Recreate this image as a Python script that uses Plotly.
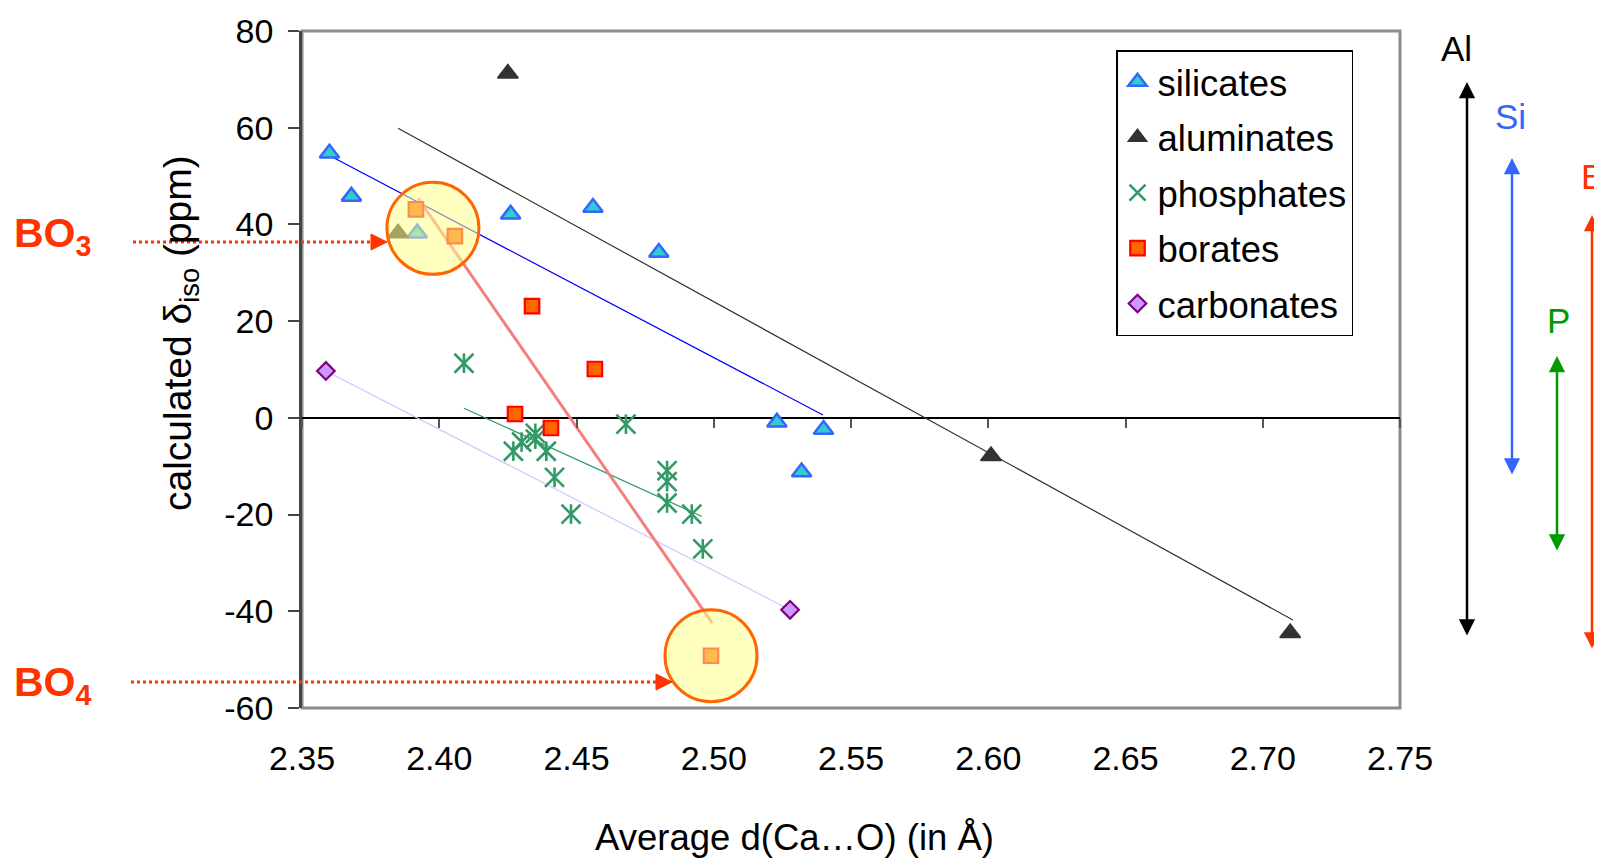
import plotly.graph_objects as go

# ---------------- data ----------------
silicates_x = [2.360, 2.368, 2.392, 2.426, 2.456, 2.480, 2.523, 2.540, 2.532]
silicates_y = [54.7, 45.8, 38.2, 42.1, 43.5, 34.2, -0.9, -2.4, -11.2]

aluminates_x = [2.425, 2.385, 2.601, 2.710]
aluminates_y = [71.2, 38.2, -7.9, -44.5]

phosphates_x = [2.409, 2.427, 2.430, 2.435, 2.435, 2.439, 2.442, 2.448, 2.468,
                2.483, 2.483, 2.483, 2.492, 2.496]
phosphates_y = [11.3, -6.9, -5.0, -3.2, -4.4, -6.9, -12.3, -19.9, -1.3,
                -10.9, -13.2, -17.6, -19.9, -27.1]

borates_x = [2.3915, 2.4057, 2.4338, 2.4567, 2.4276, 2.4407, 2.499]
borates_y = [43.1, 37.6, 23.1, 10.1, 0.8, -2.1, -49.2]

carbonates_x = [2.3587, 2.5278]
carbonates_y = [9.7, -39.7]

# trend lines (end points)
al_trend_x = [2.385, 2.711]
al_trend_y = [59.9, -41.8]
si_trend_x = [2.3598, 2.5398]
si_trend_y = [54.3, 0.6]
ph_trend_x = [2.409, 2.4957]
ph_trend_y = [2.0, -20.4]
bo_trend_x = [2.3923, 2.4994]
bo_trend_y = [45.4, -42.4]
ca_trend_x = [2.3587, 2.5278]
ca_trend_y = [9.7, -39.7]

x_ticks = [2.35, 2.40, 2.45, 2.50, 2.55, 2.60, 2.65, 2.70, 2.75]
x_tick_labels = ["2.35", "2.40", "2.45", "2.50", "2.55", "2.60", "2.65", "2.70", "2.75"]
y_ticks = [-60, -40, -20, 0, 20, 40, 60, 80]
y_tick_labels = ["-60", "-40", "-20", "0", "20", "40", "60", "80"]

# ---------------- layout geometry ----------------
OFF = 8                      # page body margin of the written html
SW, SH = 1602, 858           # screenshot size
L, R, T, B = 302, 1400, 31, 708   # plot area in screenshot pixels
W, H = SW - OFF, SH - OFF
XMIN, XMAX = 2.35, 2.75
YMIN, YMAX = -60, 80
FONT = "Liberation Sans, Arial, sans-serif"


def px(X):
    return (X - L) / (R - L)


def py(Y):
    return (B - Y) / (B - T)


fig = go.Figure()

# trend lines
for tx, ty, col, w in [
    (ca_trend_x, ca_trend_y, "#c8c8ff", 1.2),
    (ph_trend_x, ph_trend_y, "#339966", 1.2),
    (al_trend_x, al_trend_y, "#333333", 1.2),
    (si_trend_x, si_trend_y, "#0000ff", 1.2),
    (bo_trend_x, bo_trend_y, "#f47f7f", 3),
]:
    fig.add_trace(go.Scatter(x=tx, y=ty, mode="lines", line=dict(color=col, width=w),
                             showlegend=False, hoverinfo="skip"))

fig.add_trace(go.Scatter(
    x=silicates_x, y=silicates_y, mode="markers", name="silicates", legendgroup="si",
    marker=dict(symbol="triangle-up", size=17, color="#33cccc",
                line=dict(color="#3366ff", width=2.5))))
fig.add_trace(go.Scatter(
    x=aluminates_x, y=aluminates_y, mode="markers", name="aluminates", legendgroup="al",
    marker=dict(symbol="triangle-up", size=18, color="#333333",
                line=dict(color="#333333", width=1.5))))
fig.add_trace(go.Scatter(
    x=phosphates_x, y=phosphates_y, mode="markers", name="phosphates", legendgroup="ph",
    marker=dict(symbol="x-thin-open", size=19, color="#339966",
                line=dict(color="#339966", width=2.6))))
fig.add_trace(go.Scatter(
    x=phosphates_x, y=phosphates_y, mode="markers", showlegend=False, legendgroup="ph",
    hoverinfo="skip",
    marker=dict(symbol="line-ns-open", size=14, color="#339966",
                line=dict(color="#339966", width=2.6))))
fig.add_trace(go.Scatter(
    x=borates_x, y=borates_y, mode="markers", name="borates", legendgroup="bo",
    marker=dict(symbol="square", size=14.5, color="#ff6600",
                line=dict(color="#ff0000", width=2.2))))
fig.add_trace(go.Scatter(
    x=carbonates_x, y=carbonates_y, mode="markers", name="carbonates", legendgroup="ca",
    marker=dict(symbol="diamond", size=13.5, color="#cc99ff",
                line=dict(color="#800080", width=2.2))))

# invisible trace to create the axis carrying tick marks on the zero line
fig.add_trace(go.Scatter(x=[XMIN], y=[0], xaxis="x2", yaxis="y", mode="markers",
                         marker=dict(size=0.1, opacity=0), showlegend=False, hoverinfo="skip"))

shapes = []
# plot frame
shapes.append(dict(type="rect", xref="paper", yref="paper", x0=0, y0=0, x1=1, y1=1,
                   line=dict(color="#8c8c8c", width=3), layer="below"))

# highlight circles (BO3 group and BO4 point)
r_px = 46
rx = r_px / (R - L) * (XMAX - XMIN)
ry = r_px / (B - T) * (YMAX - YMIN)
for cx, cy in [(2.3977, 39.2), (borates_x[-1], borates_y[-1])]:
    shapes.append(dict(type="circle", xref="x", yref="y",
                       x0=cx - rx, x1=cx + rx, y0=cy - ry, y1=cy + ry,
                       fillcolor="rgba(255,255,140,0.55)",
                       line=dict(color="#ff6600", width=3), layer="above"))

RED = "#ff3300"
# dotted arrows for BO3 / BO4
for x_start, x_tip, yy in [(133, 387, 242), (131, 672, 682)]:
    shapes.append(dict(type="line", xref="paper", yref="paper",
                       x0=px(x_start), x1=px(x_tip - 14), y0=py(yy), y1=py(yy),
                       line=dict(color=RED, width=3, dash="dot")))
    path = "M {} {} L {} {} L {} {} Z".format(
        px(x_tip - 16), py(yy - 8), px(x_tip), py(yy), px(x_tip - 16), py(yy + 8))
    shapes.append(dict(type="path", xref="paper", yref="paper", path=path,
                       fillcolor=RED, line=dict(color=RED, width=1)))

annotations = []
# axis titles
annotations.append(dict(xref="paper", yref="paper", x=px(794), y=py(837),
                        text="Average d(Ca…O) (in Å)", showarrow=False,
                        font=dict(family=FONT, size=36.5, color="black"),
                        xanchor="center", yanchor="middle"))
annotations.append(dict(xref="paper", yref="paper", x=px(180), y=py(333),
                        text="calculated δ<sub>iso</sub> (ppm)", showarrow=False,
                        textangle=-90,
                        font=dict(family=FONT, size=39, color="black"),
                        xanchor="center", yanchor="middle"))
# BO labels
for txt, yy in [("<b>BO<sub>3</sub></b>", 236), ("<b>BO<sub>4</sub></b>", 685)]:
    annotations.append(dict(xref="paper", yref="paper", x=px(12), y=py(yy),
                            text=txt, showarrow=False,
                            font=dict(family=FONT, size=41, color=RED),
                            xanchor="left", yanchor="middle"))

# right-hand range arrows (the B one is cut by the right edge, as in the original)
for label, col, lx, ly, ax_x, y_top, y_bot in [
    ("Al", "black", 1456, 49, 1467, 82, 637),
    ("Si", "#3366ff", 1510, 116, 1512, 158, 476),
    ("P", "#009900", 1558, 320, 1557, 356, 552),
    ("B", RED, 1592, 176, 1592, 215, 650),
]:
    annotations.append(dict(xref="paper", yref="paper", x=px(lx), y=py(ly),
                            text=label, showarrow=False,
                            font=dict(family=FONT, size=35, color=col),
                            xanchor="center", yanchor="middle"))
    annotations.append(dict(xref="paper", yref="paper", x=px(ax_x), y=py(y_top),
                            ax=0, ay=y_bot - y_top, axref="pixel", ayref="pixel",
                            text="", showarrow=True, arrowside="end+start",
                            arrowhead=2, arrowsize=1.3, arrowwidth=2.5, arrowcolor=col))

fig.update_layout(
    width=W, height=H, autosize=False,
    margin=dict(l=L - OFF, r=W - (R - OFF), t=T - OFF, b=H - (B - OFF), pad=0,
                autoexpand=False),
    paper_bgcolor="white", plot_bgcolor="white",
    font=dict(family=FONT, color="black"),
    showlegend=True,
    legend=dict(x=px(1116), y=py(50), xanchor="left", yanchor="top",
                bgcolor="white", bordercolor="black", borderwidth=1.5,
                font=dict(family=FONT, size=36.5, color="black"),
                tracegroupgap=5, traceorder="grouped"),
    xaxis=dict(range=[XMIN, XMAX], tickmode="array", tickvals=x_ticks, ticktext=x_tick_labels,
               showgrid=False, zeroline=False, ticks="", showline=False, automargin=False,
               tickfont=dict(family=FONT, size=34, color="black"),
               ticklabelstandoff=27),
    xaxis2=dict(range=[XMIN, XMAX], overlaying="x", matches="x", anchor="free",
                position=(0 - YMIN) / (YMAX - YMIN), side="bottom", automargin=False,
                tickmode="array", tickvals=x_ticks, ticks="outside", ticklen=9,
                tickwidth=1.5, tickcolor="#555555", showticklabels=False,
                showgrid=False, zeroline=False, showline=False),
    yaxis=dict(range=[YMIN, YMAX], tickmode="array", tickvals=y_ticks, ticktext=y_tick_labels,
               showgrid=False, zeroline=True, zerolinecolor="black", zerolinewidth=1.5,
               showline=True, linecolor="#444444", linewidth=2.5, automargin=False,
               ticks="outside", ticklen=11, tickwidth=1.5, tickcolor="#444444",
               tickfont=dict(family=FONT, size=34, color="black"),
               ticklabelstandoff=8),
    shapes=shapes,
    annotations=annotations,
    hovermode=False,
)

fig.write_html("out.html")
